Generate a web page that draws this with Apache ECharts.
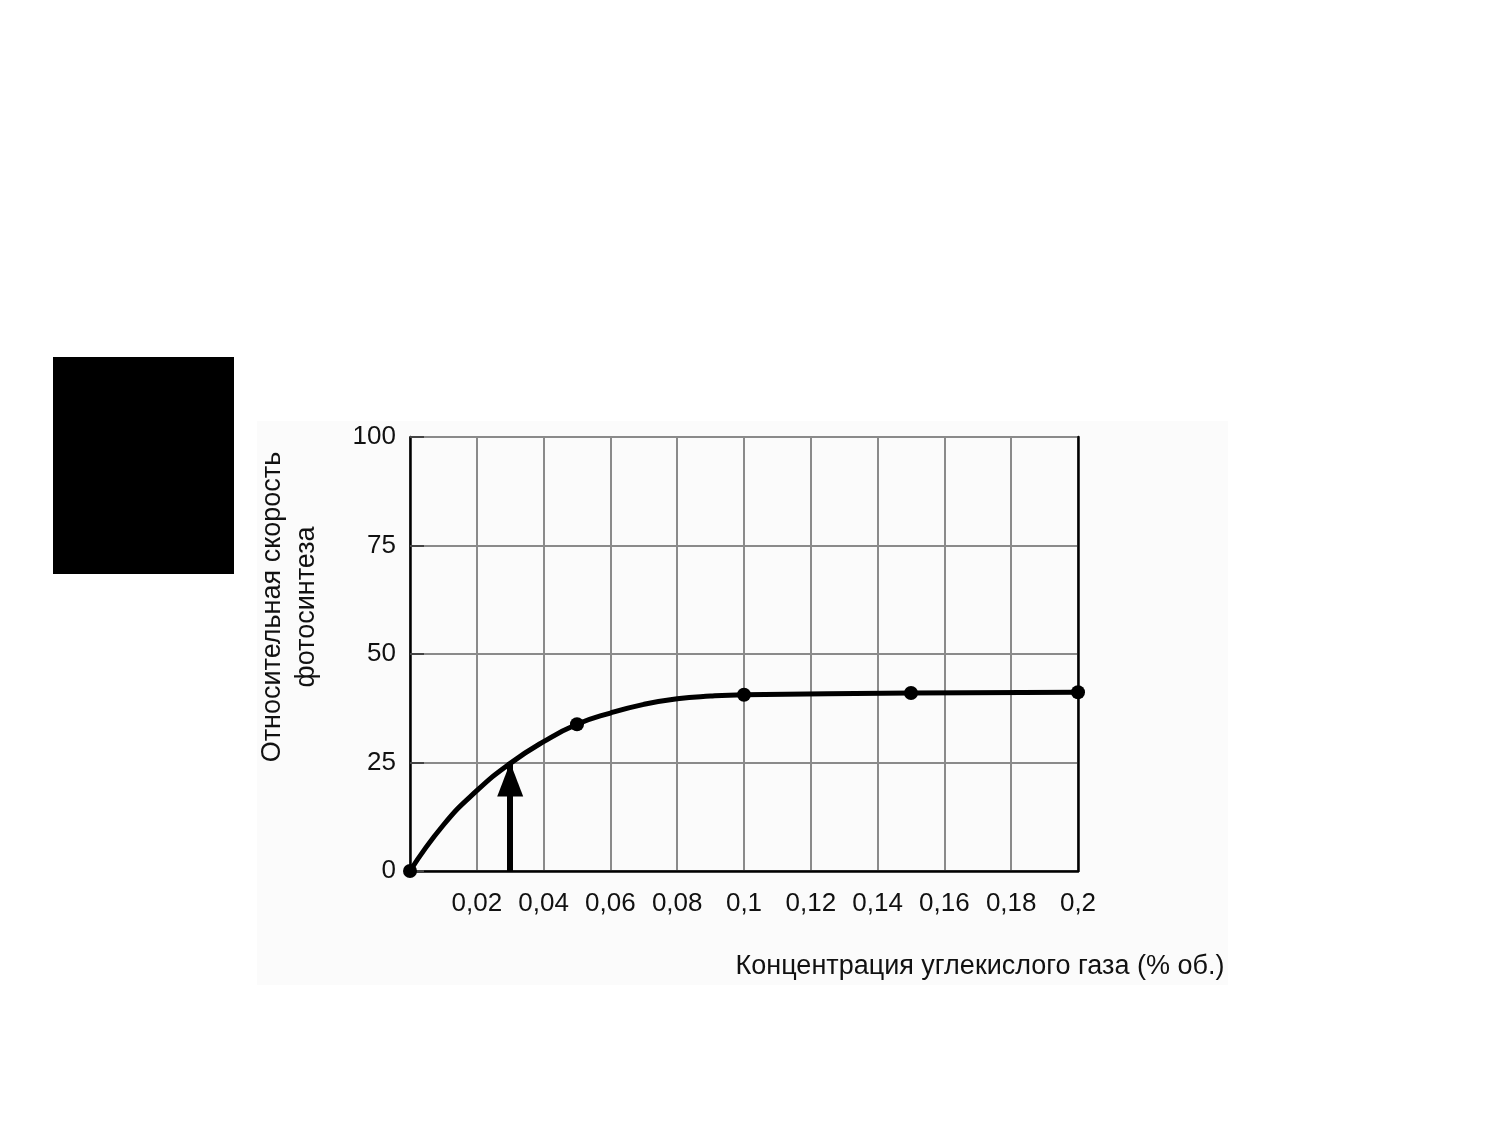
<!DOCTYPE html>
<html>
<head>
<meta charset="utf-8">
<script src="https://cdn.jsdelivr.net/npm/echarts@6/dist/echarts.min.js"></script>
<style>
html,body{margin:0;padding:0;background:#fff;}
#chart{width:1500px;height:1125px;}
</style>
</head>
<body>
<div id="chart"></div>
<script>
// Curve (x = CO2 %, y = relative rate)
const curveX = [0, 0.01, 0.02, 0.03, 0.04, 0.05, 0.06, 0.07, 0.08, 0.09, 0.1, 0.15, 0.2];
const curveY = [0, 10.6, 18.5, 24.8, 29.8, 33.8, 36.4, 38.4, 39.7, 40.3, 40.6, 41.0, 41.2];
// Measured points (dots)
const pointX = [0, 0.05, 0.1, 0.15, 0.2];
const pointY = [0, 33.8, 40.6, 41.0, 41.2];
// Arrow
const arrowX = 0.03;
const arrowTop = 25;
// Tick labels
const xTickLabels = ['', '0,02', '0,04', '0,06', '0,08', '0,1', '0,12', '0,14', '0,16', '0,18', '0,2'];
const yTickLabels = ['0', '25', '50', '75', '100'];
const xTitle = 'Концентрация углекислого газа (% об.)';
const yTitle = 'Относительная скорость\nфотосинтеза';

const chart = echarts.init(document.getElementById('chart'), null, {renderer: 'canvas'});
const font = 'Liberation Sans, Arial, sans-serif';

const option = {
  backgroundColor: '#ffffff',
  animation: false,
  graphic: [
    {type: 'rect', z: -10, shape: {x: 257, y: 421, width: 971, height: 564}, style: {fill: '#fbfbfb'}},
    {type: 'rect', z: -10, shape: {x: 53, y: 357, width: 181, height: 217}, style: {fill: '#000000'}}
  ],
  grid: {left: 410, right: 422, top: 437, bottom: 254, containLabel: false},
  xAxis: {
    type: 'value', min: 0, max: 0.2, interval: 0.02,
    name: xTitle, nameLocation: 'middle', nameGap: 82,
    nameTextStyle: {fontFamily: font, fontSize: 27, color: '#111', padding: [0, 0, 0, 472]},
    axisLine: {show: true, onZero: false, lineStyle: {color: '#000', width: 2.5}},
    axisTick: {show: false},
    axisLabel: {
      fontFamily: font, fontSize: 26, color: '#111', margin: 20,
      formatter: (v, i) => xTickLabels[i] !== undefined ? xTickLabels[i] : ''
    },
    splitLine: {show: true, lineStyle: {color: '#8a8a8a', width: 2}}
  },
  yAxis: [
    {
      type: 'value', min: 0, max: 100, interval: 25,
      name: yTitle, nameLocation: 'middle', nameGap: 86,
      nameTextStyle: {fontFamily: font, fontSize: 27, color: '#111', lineHeight: 34, align: 'center', padding: [0, 0, 0, 94]},
      axisLine: {show: true, lineStyle: {color: '#000', width: 2.5}},
      axisTick: {show: true, inside: true, length: 14, lineStyle: {color: '#444', width: 2}},
      axisLabel: {
        fontFamily: font, fontSize: 26, color: '#111', margin: 14,
        formatter: (v, i) => yTickLabels[i] !== undefined ? yTickLabels[i] : ''
      },
      splitLine: {show: true, lineStyle: {color: '#8a8a8a', width: 2}}
    },
    {
      type: 'value', min: 0, max: 100, interval: 25, position: 'right',
      axisLine: {show: true, lineStyle: {color: '#000', width: 2.5}},
      axisTick: {show: false}, axisLabel: {show: false}, splitLine: {show: false}
    }
  ],
  series: [
    {
      type: 'line', smooth: 0.5, showSymbol: false, silent: true,
      data: curveX.map((x, i) => [x, curveY[i]]),
      lineStyle: {color: '#000', width: 5},
      z: 3
    },
    {
      type: 'scatter', symbol: 'circle', symbolSize: 14,
      data: pointX.map((x, i) => [x, pointY[i]]),
      itemStyle: {color: '#000', opacity: 1},
      z: 4,
      markLine: {
        silent: true,
        symbol: ['none', 'triangle'],
        symbolSize: [26, 34],
        symbolOffset: [0, [0, 17]],
        label: {show: false},
        lineStyle: {color: '#000', width: 6, type: 'solid', opacity: 1},
        data: [[{coord: [arrowX, 0]}, {coord: [arrowX, arrowTop]}]]
      }
    }
  ]
};
chart.setOption(option);
</script>
</body>
</html>
